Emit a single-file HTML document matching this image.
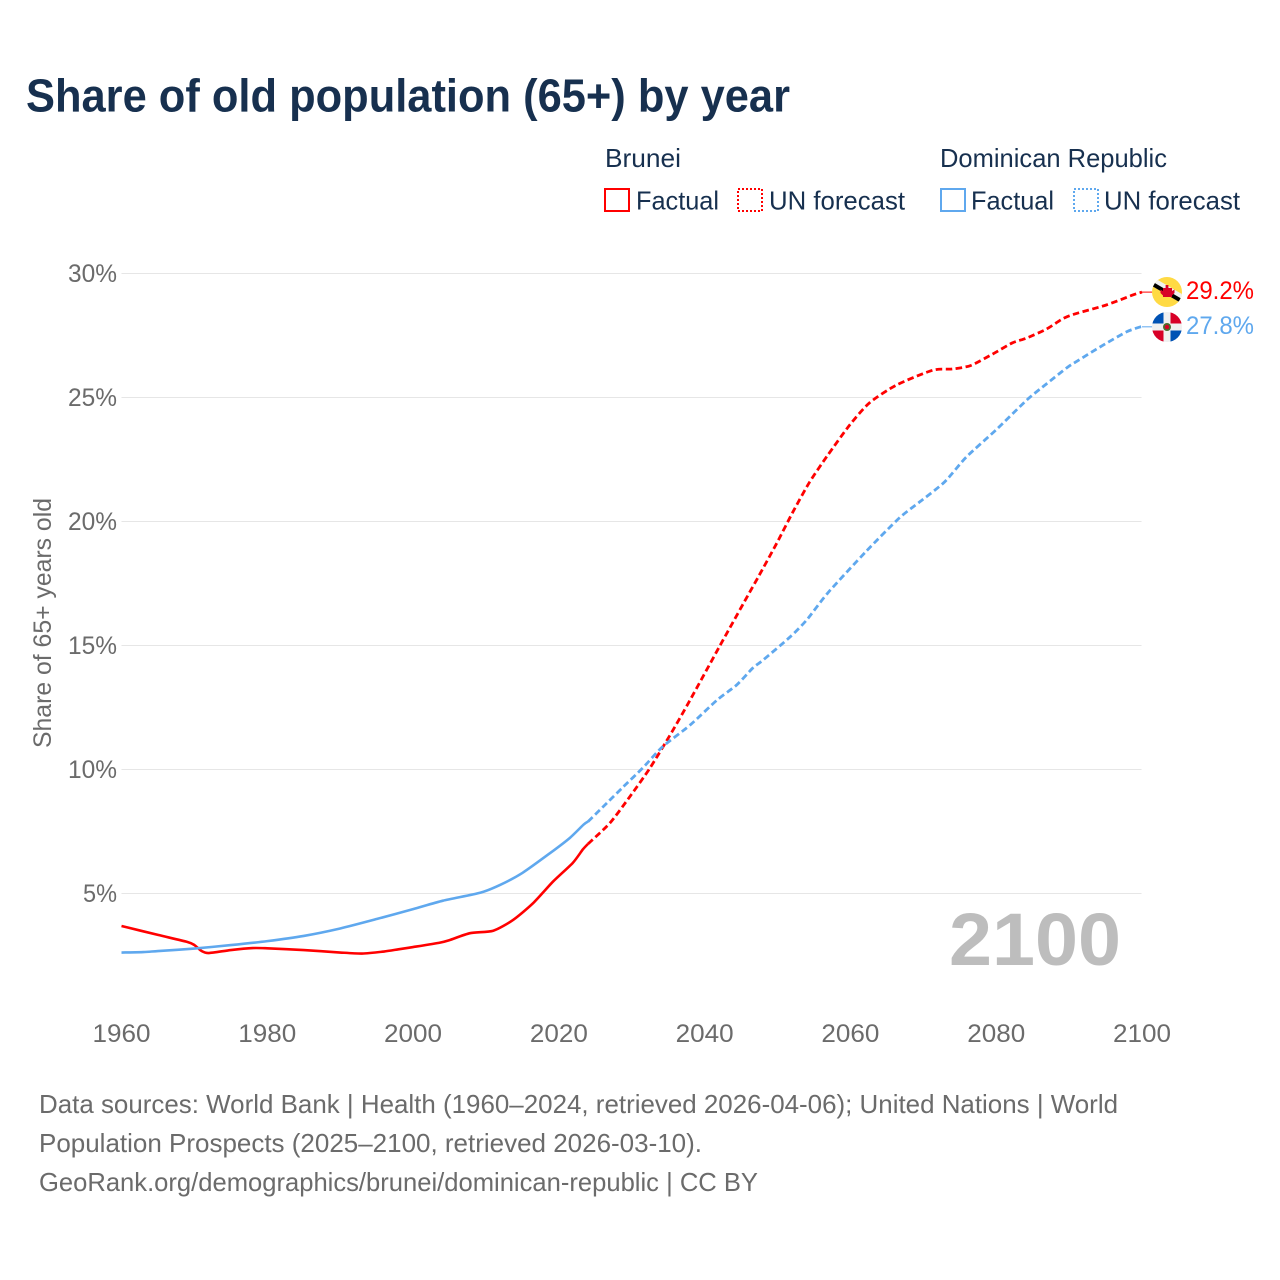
<!DOCTYPE html>
<html lang="en">
<head>
<meta charset="utf-8">
<title>Share of old population (65+) by year</title>
<style>
html,body{margin:0;padding:0;background:#fff;}
svg{display:block;}
text{font-family:"Liberation Sans",sans-serif;}
</style>
</head>
<body>
<svg id="chart" xmlns="http://www.w3.org/2000/svg" width="1280" height="1280" viewBox="0 0 1280 1280">
  <rect x="0" y="0" width="1280" height="1280" fill="#fff"/>
  <text x="26" y="111.5" font-size="46" font-weight="700" fill="#17304f" textLength="764" lengthAdjust="spacingAndGlyphs">Share of old population (65+) by year</text>

  <g font-size="26" fill="#17304f">
    <text x="605" y="167" textLength="76" lengthAdjust="spacingAndGlyphs">Brunei</text>
    <rect x="605" y="189" width="24" height="22" fill="none" stroke="#ff0000" stroke-width="2"/>
    <text x="636" y="209.5" textLength="83" lengthAdjust="spacingAndGlyphs">Factual</text>
    <rect x="738" y="189" width="24" height="22" fill="none" stroke="#ff0000" stroke-width="2" stroke-dasharray="2 2"/>
    <text x="769" y="209.5" textLength="136" lengthAdjust="spacingAndGlyphs">UN forecast</text>
    <text x="940" y="167" textLength="227" lengthAdjust="spacingAndGlyphs">Dominican Republic</text>
    <rect x="941" y="189" width="24" height="22" fill="none" stroke="#5fa8ee" stroke-width="2"/>
    <text x="971" y="209.5" textLength="83" lengthAdjust="spacingAndGlyphs">Factual</text>
    <rect x="1074" y="189" width="24" height="22" fill="none" stroke="#5fa8ee" stroke-width="2" stroke-dasharray="2 2"/>
    <text x="1104" y="209.5" textLength="136" lengthAdjust="spacingAndGlyphs">UN forecast</text>
  </g>

  <g id="grid"></g>
  <g id="yticks" font-size="25" fill="#6b6b6b"></g>
  <g id="xticks" font-size="25" fill="#6b6b6b"></g>
  <text transform="translate(51 748) rotate(-90)" font-size="25" fill="#6b6b6b" textLength="250" lengthAdjust="spacingAndGlyphs">Share of 65+ years old</text>
  <text x="949" y="965" font-size="74" font-weight="700" fill="#bdbdbd" textLength="172" lengthAdjust="spacingAndGlyphs">2100</text>

  <g id="series"></g>

  <g>
    <clipPath id="clip-bn"><circle cx="1167" cy="292" r="15"/></clipPath>
    <g clip-path="url(#clip-bn)">
      <rect x="1150" y="275" width="34" height="34" fill="#ffda44"/>
      <path d="M1150 280 L1184 300" stroke="#f0f0f0" stroke-width="8" fill="none"/>
      <path d="M1150 282.5 L1184 302.5" stroke="#000" stroke-width="4" fill="none"/>
      <path d="M1165.6 285h2.8v3h3.6v3l2.5 -1.5v3.5l-2.5 2.5v1.5h-9v-1.5l-2.5 -2.5v-3.5l2.5 1.5v-3h2.6z" fill="#d80027"/>
    </g>
  </g>
  <g>
    <clipPath id="clip-do"><circle cx="1167" cy="327" r="15"/></clipPath>
    <g clip-path="url(#clip-do)">
      <rect x="1152" y="312" width="30" height="30" fill="#f0f0f0"/>
      <rect x="1152" y="312" width="11.5" height="11.5" fill="#0052b4"/>
      <rect x="1170.5" y="312" width="11.5" height="11.5" fill="#d80027"/>
      <rect x="1152" y="330.5" width="11.5" height="11.5" fill="#d80027"/>
      <rect x="1170.5" y="330.5" width="11.5" height="11.5" fill="#0052b4"/>
      <circle cx="1167" cy="327" r="4" fill="#496e2d"/>
      <circle cx="1167" cy="327" r="2.2" fill="#d80027"/>
    </g>
  </g>

  <text id="label-bn" x="1186" y="299" font-size="25" fill="#ff0000" textLength="68" lengthAdjust="spacingAndGlyphs"></text>
  <text id="label-do" x="1186" y="334" font-size="25" fill="#5fa8ee" textLength="68" lengthAdjust="spacingAndGlyphs"></text>

  <g font-size="26" fill="#6b6b6b">
    <text x="39" y="1113" textLength="1079" lengthAdjust="spacingAndGlyphs">Data sources: World Bank | Health (1960–2024, retrieved 2026-04-06); United Nations | World</text>
    <text x="39" y="1152" textLength="663" lengthAdjust="spacingAndGlyphs">Population Prospects (2025–2100, retrieved 2026-03-10).</text>
    <text x="39" y="1191" textLength="719" lengthAdjust="spacingAndGlyphs">GeoRank.org/demographics/brunei/dominican-republic | CC BY</text>
  </g>
</svg>

<script>
const yTickValues = [5, 10, 15, 20, 25, 30];
const xTickYears = [1960, 1980, 2000, 2020, 2040, 2060, 2080, 2100];

const bruneiFactualYears = [1960, 1965, 1969, 1970, 1971, 1972, 1975, 1978, 1980, 1985, 1990, 1993, 1996, 1998, 2000, 2003.7, 2005, 2007.8, 2011, 2013.7, 2016.5, 2019.2, 2021.9, 2023.3, 2024];
const bruneiFactualValues = [3.69, 3.33, 3.05, 2.92, 2.68, 2.6, 2.72, 2.8, 2.79, 2.72, 2.62, 2.58, 2.66, 2.75, 2.84, 3.02, 3.12, 3.4, 3.5, 3.93, 4.62, 5.48, 6.23, 6.78, 7.0];
const bruneiForecastYears = [2024, 2027, 2029.7, 2032.5, 2035.5, 2038, 2042, 2045.8, 2047.5, 2049.9, 2052.1, 2054.4, 2056.9, 2059.9, 2062.6, 2066.3, 2071.3, 2074, 2076.5, 2079.5, 2082.2, 2084.2, 2086.9, 2089.1, 2090.8, 2095.1, 2098.7, 2100];
const bruneiForecastValues = [7.0, 7.84, 8.89, 10.06, 11.51, 12.8, 14.94, 16.95, 17.84, 19.13, 20.38, 21.59, 22.68, 23.89, 24.78, 25.5, 26.1, 26.15, 26.29, 26.75, 27.2, 27.4, 27.76, 28.17, 28.37, 28.73, 29.13, 29.25];

const dominicanFactualYears = [1960, 1963, 1965, 1970, 1975, 1980, 1985, 1990, 1995, 2000, 2004.1, 2009.2, 2011.9, 2015, 2018.8, 2021.5, 2023.4, 2024];
const dominicanFactualValues = [2.62, 2.64, 2.68, 2.78, 2.92, 3.08, 3.29, 3.59, 3.97, 4.37, 4.71, 5.03, 5.34, 5.83, 6.63, 7.24, 7.78, 7.9];
const dominicanForecastYears = [2024, 2026.6, 2028.8, 2031.5, 2034.2, 2038, 2041.7, 2044.4, 2046.6, 2048, 2051.7, 2054, 2056.9, 2062.2, 2066.7, 2069.5, 2072.9, 2075.9, 2080, 2084.2, 2086.9, 2089.7, 2091, 2094.6, 2097.9, 2099.7, 2100];
const dominicanForecastValues = [7.9, 8.65, 9.29, 10.06, 10.91, 11.79, 12.8, 13.41, 14.09, 14.41, 15.34, 16.03, 17.12, 18.81, 20.14, 20.79, 21.59, 22.6, 23.7, 24.9, 25.55, 26.2, 26.45, 27.1, 27.65, 27.84, 27.85];

const endLabelBrunei = "29.2%";
const endLabelDominican = "27.8%";

const NS = "http://www.w3.org/2000/svg";
const RED = "#ff0000";
const BLUE = "#5fa8ee";

function xScale(year) { return 121.5 + (year - 1960) * (1142 - 121.5) / 140; }
function yScale(v) { return 893.5 - (v - 5) * 24.8; }

function linePath(years, values) {
  const p = years.map(function (y, i) { return [xScale(y), yScale(values[i])]; });
  let d = "M" + p[0][0].toFixed(2) + " " + p[0][1].toFixed(2);
  for (let i = 0; i < p.length - 1; i++) {
    const a = p[Math.max(i - 1, 0)], b = p[i], c = p[i + 1], e = p[Math.min(i + 2, p.length - 1)];
    const k = 0.12;
    d += "C" + (b[0] + (c[0] - a[0]) * k).toFixed(2) + " " + (b[1] + (c[1] - a[1]) * k).toFixed(2) + " " +
      (c[0] - (e[0] - b[0]) * k).toFixed(2) + " " + (c[1] - (e[1] - b[1]) * k).toFixed(2) + " " +
      c[0].toFixed(2) + " " + c[1].toFixed(2);
  }
  return d;
}

const gridG = document.getElementById("grid");
const yG = document.getElementById("yticks");
yTickValues.forEach(function (v) {
  const l = document.createElementNS(NS, "line");
  
  
  l.setAttribute("x1", 121.5);
  l.setAttribute("x2", 1141.5);
  l.setAttribute("y1", yScale(v));
  l.setAttribute("y2", yScale(v));
  l.setAttribute("stroke", "#e6e6e6");
  l.setAttribute("stroke-width", "1");
  gridG.appendChild(l);
  const t = document.createElementNS(NS, "text");
  
  
  t.setAttribute("x", 117);
  t.setAttribute("y", yScale(v) + 8.5);
  t.setAttribute("text-anchor", "end");
  t.setAttribute("textLength", v < 10 ? 34 : 49);
  t.setAttribute("lengthAdjust", "spacingAndGlyphs");
  t.textContent = v + "%";
  yG.appendChild(t);
});

const xG = document.getElementById("xticks");
xTickYears.forEach(function (y) {
  const t = document.createElementNS(NS, "text");
  
  
  t.setAttribute("x", xScale(y));
  t.setAttribute("y", 1042);
  t.setAttribute("text-anchor", "middle");
  t.setAttribute("textLength", 58);
  t.setAttribute("lengthAdjust", "spacingAndGlyphs");
  t.textContent = y;
  xG.appendChild(t);
});

const seriesG = document.getElementById("series");

const bruneiFactualLine = document.createElementNS(NS, "path");


bruneiFactualLine.setAttribute("d", linePath(bruneiFactualYears, bruneiFactualValues));
bruneiFactualLine.setAttribute("fill", "none");
bruneiFactualLine.setAttribute("stroke", RED);
bruneiFactualLine.setAttribute("stroke-width", "2.6");
seriesG.appendChild(bruneiFactualLine);

const bruneiForecastLine = document.createElementNS(NS, "path");


bruneiForecastLine.setAttribute("d", linePath(bruneiForecastYears, bruneiForecastValues));
bruneiForecastLine.setAttribute("fill", "none");
bruneiForecastLine.setAttribute("stroke", RED);
bruneiForecastLine.setAttribute("stroke-width", "2.8");
bruneiForecastLine.setAttribute("stroke-dasharray", "6.5 3.5");
seriesG.appendChild(bruneiForecastLine);

const dominicanFactualLine = document.createElementNS(NS, "path");


dominicanFactualLine.setAttribute("d", linePath(dominicanFactualYears, dominicanFactualValues));
dominicanFactualLine.setAttribute("fill", "none");
dominicanFactualLine.setAttribute("stroke", BLUE);
dominicanFactualLine.setAttribute("stroke-width", "2.6");
seriesG.appendChild(dominicanFactualLine);

const dominicanForecastLine = document.createElementNS(NS, "path");


dominicanForecastLine.setAttribute("d", linePath(dominicanForecastYears, dominicanForecastValues));
dominicanForecastLine.setAttribute("fill", "none");
dominicanForecastLine.setAttribute("stroke", BLUE);
dominicanForecastLine.setAttribute("stroke-width", "2.8");
dominicanForecastLine.setAttribute("stroke-dasharray", "6.5 3.5");
seriesG.appendChild(dominicanForecastLine);

const bruneiConnector = document.createElementNS(NS, "line");


bruneiConnector.setAttribute("x1", xScale(2100));
bruneiConnector.setAttribute("x2", 1153);
bruneiConnector.setAttribute("y1", yScale(bruneiForecastValues[bruneiForecastValues.length - 1]));
bruneiConnector.setAttribute("y2", yScale(bruneiForecastValues[bruneiForecastValues.length - 1]));
bruneiConnector.setAttribute("stroke", RED);
bruneiConnector.setAttribute("stroke-width", "1");
seriesG.appendChild(bruneiConnector);

const dominicanConnector = document.createElementNS(NS, "line");


dominicanConnector.setAttribute("x1", xScale(2100));
dominicanConnector.setAttribute("x2", 1153);
dominicanConnector.setAttribute("y1", yScale(dominicanForecastValues[dominicanForecastValues.length - 1]));
dominicanConnector.setAttribute("y2", yScale(dominicanForecastValues[dominicanForecastValues.length - 1]));
dominicanConnector.setAttribute("stroke", BLUE);
dominicanConnector.setAttribute("stroke-width", "1");
seriesG.appendChild(dominicanConnector);

document.getElementById("label-bn").textContent = endLabelBrunei;
document.getElementById("label-do").textContent = endLabelDominican;
</script>
</body>
</html>
